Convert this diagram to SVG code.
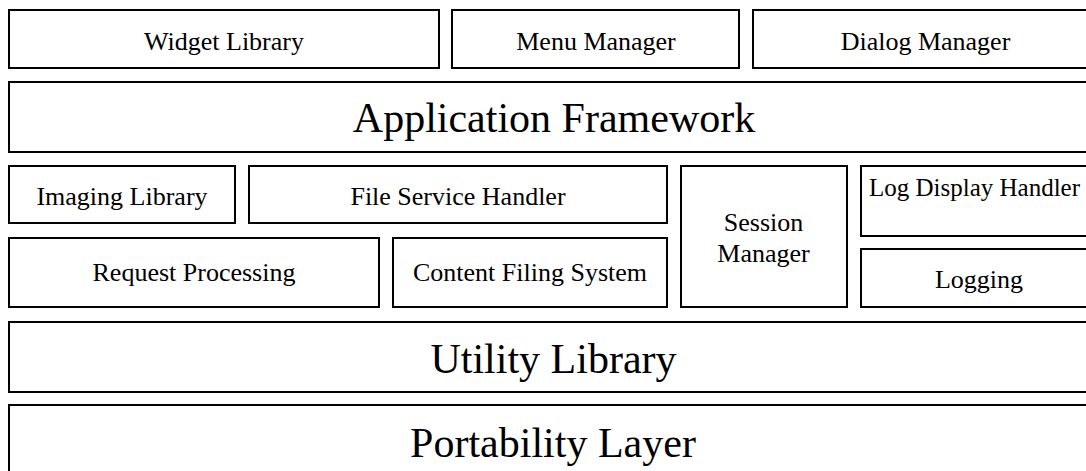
<svg xmlns="http://www.w3.org/2000/svg" width="1086" height="471" viewBox="0 0 1086 471">
<style>
rect.b{fill:#fff;stroke:#000;stroke-width:2}
text{font-family:"Liberation Serif","Times New Roman",serif;fill:#000;text-anchor:middle}
.s{font-size:26px}
.l{font-size:42px}
</style>
<rect width="1086" height="471" fill="#fff"/>
<g id="widget-library"><rect class="b" x="9" y="10" width="430" height="58"/><text class="s" x="224" y="49.5">Widget Library</text></g>
<g id="menu-manager"><rect class="b" x="452" y="10" width="287" height="58"/><text class="s" x="596" y="49.5">Menu Manager</text></g>
<g id="dialog-manager"><rect class="b" x="753" y="10" width="347" height="58"/><text class="s" x="925.5" y="49.5">Dialog Manager</text></g>
<g id="application-framework"><rect class="b" x="9" y="82" width="1092" height="70"/><text class="l" x="554" y="132">Application Framework</text></g>
<g id="imaging-library"><rect class="b" x="9" y="166" width="226" height="57"/><text class="s" x="122" y="205">Imaging Library</text></g>
<g id="file-service-handler"><rect class="b" x="249" y="166" width="418" height="57"/><text class="s" x="458" y="205">File Service Handler</text></g>
<g id="session-manager"><rect class="b" x="681" y="166" width="166" height="141"/><text class="s" x="763.5" y="231">Session</text><text class="s" x="763.5" y="262">Manager</text></g>
<g id="log-display-handler"><rect class="b" x="861" y="166" width="240" height="70"/><text x="974.5" y="196" style="font-size:25px">Log Display Handler</text></g>
<g id="request-processing"><rect class="b" x="9" y="238" width="370" height="69"/><text class="s" x="194" y="281">Request Processing</text></g>
<g id="content-filing-system"><rect class="b" x="393" y="238" width="274" height="69"/><text class="s" x="530" y="281">Content Filing System</text></g>
<g id="logging"><rect class="b" x="861" y="249" width="240" height="58"/><text class="s" x="979" y="288">Logging</text></g>
<g id="utility-library"><rect class="b" x="9" y="322" width="1092" height="70"/><text class="l" x="553.5" y="373">Utility Library</text></g>
<g id="portability-layer"><rect class="b" x="9" y="405" width="1092" height="72"/><text class="l" x="553" y="457">Portability Layer</text></g>
<g id="connectors"></g>
</svg>
